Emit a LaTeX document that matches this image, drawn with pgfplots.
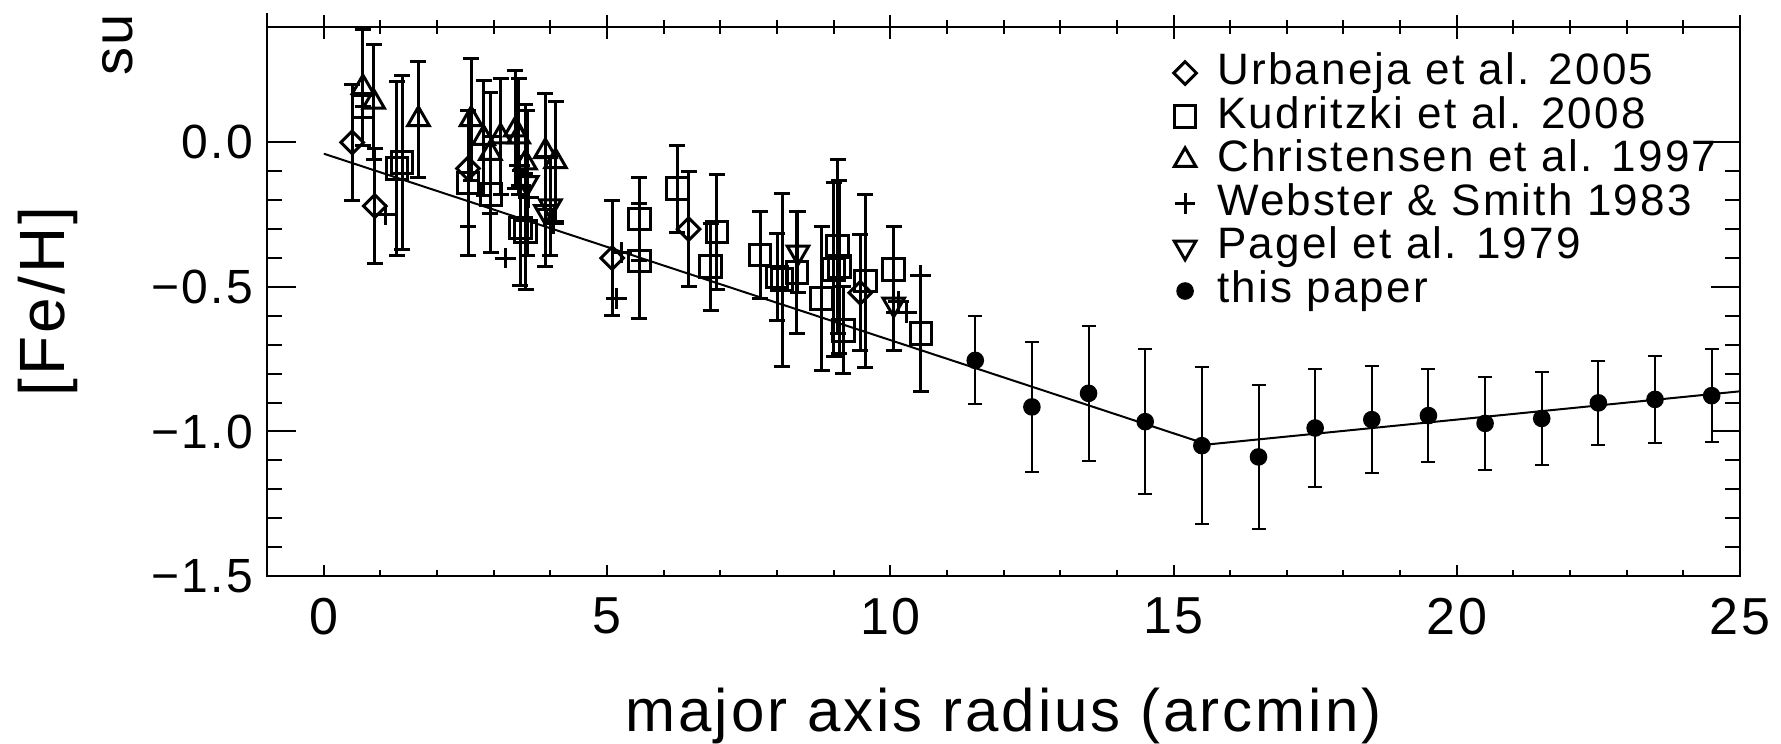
\documentclass[border=0pt]{standalone}
\usepackage{fontspec}
\setmainfont{Liberation Sans}[LetterSpace=5]
\usepackage{pgfplots}
\pgfplotsset{compat=1.18}
\usepackage{pgfplotstable}

\pgfplotstableread{
x y e
0.50 0.00 0.20
0.90 -0.22 0.20
2.545 -0.09 0.20
5.09 -0.40 0.20
6.44 -0.30 0.20
9.47 -0.52 0.20
}\urbaneja

\pgfplotstableread{
x y e
0.69 0.125 0.00
1.29 -0.09 0.30
1.38 -0.07 0.30
2.545 -0.14 0.25
2.95 -0.18 0.20
3.47 -0.296 0.20
3.56 -0.308 0.20
5.57 -0.265 0.145
5.57 -0.41 0.20
6.24 -0.16 0.15
6.83 -0.43 0.15
6.94 -0.31 0.20
7.70 -0.39 0.15
8.00 -0.465 0.15
8.09 -0.475 0.30
8.35 -0.45 0.21
8.79 -0.54 0.25
9.00 -0.44 0.30
9.07 -0.36 0.30
9.10 -0.43 0.30
9.17 -0.65 0.15
9.56 -0.48 0.30
10.06 -0.44 0.15
10.54 -0.66 0.20
}\kudritzki

\pgfplotstableread{
x y e
0.69 0.19 0.20
0.88 0.14 0.20
1.67 0.08 0.20
2.60 0.08 0.21
2.82 0.015 0.20
2.94 -0.037 0.21
3.12 0.02 0.20
3.38 0.044 0.205
3.44 0.02 0.20
3.56 -0.07 0.20
3.91 -0.031 0.20
4.09 -0.066 0.208
}\christensen

\pgfplotstableread{
x y
1.08 -0.25
3.20 -0.40
3.45 -0.08
3.48 -0.15
3.62 -0.19
4.05 -0.28
5.17 -0.54
5.26 -0.38
10.14 -0.55
10.29 -0.59
10.53 -0.46
}\webster

\pgfplotstableread{
x y e
3.59 -0.14 0.25
3.91 -0.24 0.19
4.00 -0.22 0.17
8.37 -0.38 0.14
10.06 -0.56 0.16
}\pagel

\pgfplotstableread{
x y e
11.5 -0.754 0.152
12.5 -0.915 0.224
13.5 -0.868 0.234
14.5 -0.966 0.250
15.5 -1.049 0.272
16.5 -1.088 0.249
17.5 -0.988 0.205
18.5 -0.959 0.185
19.5 -0.945 0.160
20.5 -0.972 0.160
21.5 -0.955 0.160
22.5 -0.901 0.146
23.5 -0.889 0.150
24.5 -0.876 0.162
}\thispaper

\pgfplotsset{
  common/.style={
    scale only axis, width=368.2pt, height=137.3pt,
    at={(0,0)}, anchor=south west,
    xmin=-1, xmax=25, ymin=-1.5, ymax=0.4,
    axis line style={line width=0.5pt},
    every tick/.style={black, line width=0.5pt},
  },
  lit/.style={black, only marks, line width=0.75pt,
    error bars/y dir=both, error bars/y explicit,
    error bars/error bar style={line width=0.75pt},
    error bars/error mark options={black, mark size=2pt, line width=0.75pt, rotate=90}},
}

\begin{document}
\begin{tikzpicture}
\useasboundingbox (-66.8pt,-41.75pt) rectangle (378.45pt,144pt);
% main axis: data, y ticks
\begin{axis}[common,
  xtick=\empty,
  ytick={-1.5,-1,-0.5,0}, minor y tick num=4, ytick pos=both,
  yticklabels={−1.5,−1.0,−0.5,0.0},
  yticklabel style={font=\fontsize{12}{14}\selectfont},
  tick align=inside, major tick length=7.25pt, minor tick length=3.75pt,
  ylabel={[Fe/H]},
  ylabel style={at={(axis description cs:0,0.5)}, anchor=center, yshift=54.8pt, font=\fontsize{16}{19}\selectfont},
  legend style={draw=none, fill=none, at={(axis description cs:0.615,0.957)}, anchor=north west,
    inner sep=0pt, font=\fontsize{11}{11}\selectfont, row sep=0pt,
    nodes={inner sep=0.7pt, text height=7.6pt, text depth=1.9pt},
    /tikz/every odd column/.style={column sep=4.5pt}},
  legend cell align=left,
  legend image code/.code={\draw[mark repeat=2,mark phase=2,#1] plot coordinates {(-3pt,0pt) (0pt,0pt) (3pt,0pt)};},
]
\addplot[lit, mark=square, mark size=2.0pt, mark options={rotate=45, line width=0.75pt}]
  table[x=x, y=y, y error=e] {\urbaneja};
\addlegendentry{Urbaneja et al. 2005}
\addplot[lit, mark=square, mark size=2.7pt, mark options={line width=0.75pt}]
  table[x=x, y=y, y error=e] {\kudritzki};
\addlegendentry{Kudritzki et al. 2008}
\addplot[lit, mark=triangle, mark size=3.1pt, mark options={line width=0.75pt}]
  table[x=x, y=y, y error=e] {\christensen};
\addlegendentry{Christensen et al. 1997}
\addplot[black, only marks, mark=+, mark size=2.6pt, mark options={line width=0.75pt}]
  table[x=x, y=y] {\webster};
\addlegendentry{Webster \& Smith 1983}
\addplot[lit, mark=triangle, mark size=3.1pt, mark options={rotate=180, line width=0.75pt}]
  table[x=x, y=y, y error=e] {\pagel};
\addlegendentry{Pagel et al. 1979}
\addplot[black, only marks, mark=*, mark size=2pt,
  error bars/y dir=both, error bars/y explicit,
  error bars/error bar style={line width=0.5pt},
  error bars/error mark options={black, mark size=1.75pt, line width=0.5pt, rotate=90}]
  table[x=x, y=y, y error=e] {\thispaper};
\addlegendentry{this paper}
\addplot[black, line width=0.5pt, mark=none, forget plot] coordinates {(0,-0.039) (15.6,-1.045) (25,-0.861)};
\end{axis}
% bottom x ticks and labels
\begin{axis}[common,
  axis x line*=bottom, axis y line=none,
  xtick={0,5,...,25}, minor x tick num=4,
  /pgf/number format/assume math mode=true,
  tick align=inside, major tick length=2.75pt, minor tick length=1.4pt,
  xticklabel style={font=\fontsize{13}{15}\selectfont, yshift=-2pt},
  xlabel={major axis radius (arcmin)},
  xlabel style={at={(axis description cs:0.5,0)}, anchor=center, yshift=-35pt, font=\fontsize{15}{18}\selectfont},
]
\end{axis}
% top x ticks
\begin{axis}[common,
  axis x line*=top, axis y line=none,
  xtick={0,5,...,25}, minor x tick num=4, xticklabels={},
  tick align=center, major tick length=6pt, minor tick length=3.5pt,
]
\end{axis}
\draw[line width=0.5pt] (0,137.3pt) -- (0,140.8pt);
\node[rotate=90, font=\fontsize{14}{17}\selectfont, inner sep=0pt] at (-37.3pt,132.75pt) {su};
\end{tikzpicture}
\end{document}
